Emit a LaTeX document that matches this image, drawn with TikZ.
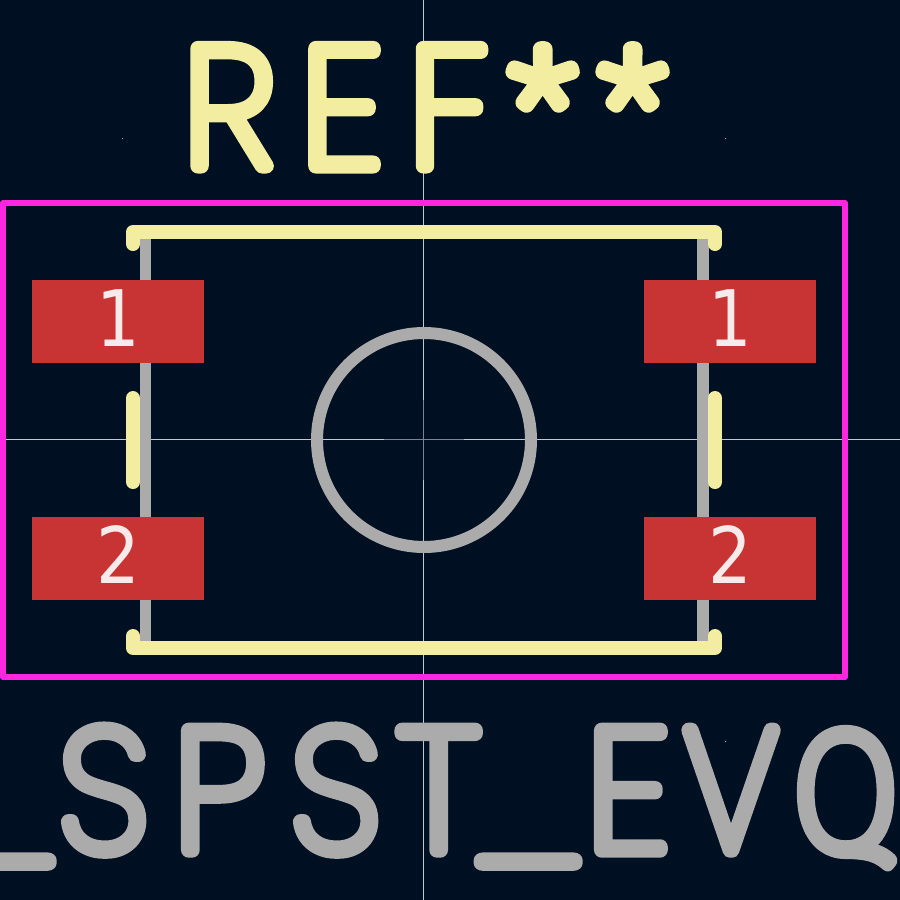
\documentclass[tikz,border=0pt]{standalone}
\usepackage{fontspec}
\newfontfamily\strokefont[FakeBold=9]{Poppins Thin}
\newfontfamily\altfont[FakeBold=9]{Fira Sans Thin}
\newfontfamily\starfont[FakeBold=9]{Fira Sans Thin}
\newfontfamily\padfont{DejaVu Sans}
\definecolor{pcbbg}{HTML}{001023}
\definecolor{silk}{HTML}{F2EDA1}
\definecolor{fab}{HTML}{ABABAB}
\definecolor{cu}{HTML}{C83434}
\definecolor{court}{HTML}{FF26E2}
\definecolor{axis}{HTML}{C2C8D0}
\definecolor{axisdim}{HTML}{7A8490}
\definecolor{padtxt}{HTML}{F7EAEA}
\definecolor{griddot}{HTML}{8FA0B0}
\newcommand{\gl}[3]{\hbox to 0pt{\kern#1pt\raisebox{#2pt}{#3}\hss}}
\tikzset{
 x=1pt,y=-1pt,
 silkline/.style={draw=silk,line width=14pt,line cap=round,line join=round},
 fabline/.style={draw=fab,line width=11.5pt},
 padbox/.style={fill=cu,draw=none,minimum width=172pt,minimum height=83pt,inner sep=0pt,text=padtxt,text height=58pt,text depth=9pt,font=\padfont\fontsize{78}{78}\selectfont},
 reftext/.style={text=silk,inner sep=0pt,anchor=base west,font=\strokefont\fontsize{167}{167}\selectfont,line join=round},
 valtext/.style={text=fab,inner sep=0pt,anchor=base west,font=\strokefont\fontsize{170}{170}\selectfont,line join=round},
 griddotmark/.style={fill=griddot,draw=none},
}
\begin{document}
\begin{tikzpicture}
\useasboundingbox (0,0) rectangle (900,900);
\fill[pcbbg] (0,0) rectangle (900,900);
\fill[griddotmark] (122,138) rectangle +(1,1) (725,138) rectangle +(1,1) (725,741) rectangle +(1,1);
\draw[axis,line width=1pt] (423.5,0)--(423.5,900) (0,439.5)--(900,439.5);
\draw[axisdim,line width=1pt] (423.5,400)--(423.5,480) (384,439.5)--(464,439.5);
\draw[court,line width=6pt,line join=round] (3,203) rectangle (845,677);
\draw[fabline] (145.5,232) rectangle (703,648);
\draw[fab,line width=12pt] (424,440) circle (107);
\draw[silkline] (133,244)--(133,232)--(715,232)--(715,244);
\draw[silkline] (133,636)--(133,648)--(715,648)--(715,636);
\draw[silkline] (133,398)--(133,482);
\draw[silkline] (715,398)--(715,482);
\node[padbox] (p1l) at (118,321.5) {\scalebox{.88}[1]{1}};
\node[padbox] (p2l) at (118,558.5) {\scalebox{.88}[1]{2}};
\node[padbox] (p1r) at (730,321.5) {\scalebox{.88}[1]{1}};
\node[padbox] (p2r) at (730,558.5) {\scalebox{.88}[1]{2}};
\node[reftext] (ref) at (0,166) {\gl{183}{0}{R}\gl{301}{0}{E}\gl{408.5}{0}{F}\gl{504}{-12}{\starfont\fontsize{176}{176}\selectfont *}\gl{594}{-12}{\starfont\fontsize{176}{176}\selectfont *}};
\node[valtext] (val) at (0,850) {\gl{-52}{-5}{\scalebox{1.18}[1]{\_}}\gl{59}{0}{\scalebox{.96}[1]{S}}\gl{173.5}{0}{P}\gl{291}{0}{\scalebox{.96}[1]{S}}\gl{398}{0}{T}\gl{474}{-5}{\scalebox{1.18}[1]{\_}}\gl{586.5}{0}{E}\gl{683}{0}{\scalebox{.9}[1]{V}}\gl{791}{0}{\scalebox{.92}[1]{\altfont Q}}};
\end{tikzpicture}
\end{document}
